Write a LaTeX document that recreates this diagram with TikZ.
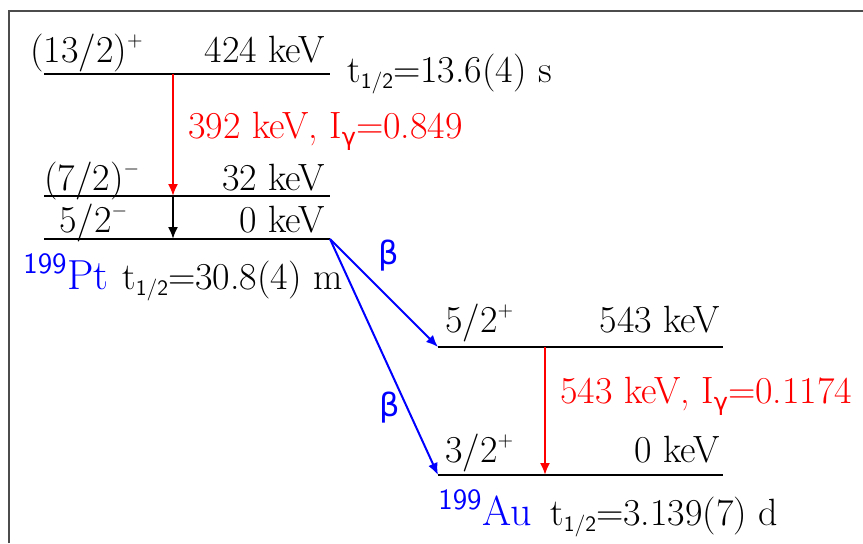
\documentclass[tikz,border=0pt]{standalone}
\usepackage{fontspec}
\newfontfamily\betafont{DejaVu Sans}
\usetikzlibrary{arrows.meta,positioning}
\newcommand\thalf{t\raisebox{-0.4ex}{\fontsize{11}{12}\selectfont\sffamily 1/2}}
\newcommand\igam{I\raisebox{-0.45ex}{\fontsize{12}{12}\selectfont\betafont γ}}
\newcommand\supr[1]{\raisebox{0.95ex}{\fontsize{10}{10}\selectfont #1}}

\begin{document}
\begin{tikzpicture}[x=0.5pt,y=-0.5pt,>={Latex[length=6pt,width=5pt]},
  level/.style={line width=1.4pt},
  gam/.style={->,red,line width=1pt},
  bet/.style={->,blue,line width=1pt},
  lab/.style={font=\fontsize{19}{22}\selectfont,inner sep=0pt},
  nuc/.style={font=\fontsize{21}{24}\selectfont,blue,inner sep=0pt}]
  \useasboundingbox (0,0) rectangle (863,543);
  % Rahmen
  \draw[black!70,line width=1pt] (9,543) -- (9,10.5) -- (863,10.5);
  % Niveaus Pt
  \coordinate (pt424l) at (44,74);  \coordinate (pt424r) at (330,74);
  \coordinate (pt32l) at (44,196);  \coordinate (pt32r) at (330,196);
  \coordinate (pt0l) at (44,239);   \coordinate (pt0r) at (330,239);
  \draw[level] (pt424l) -- (pt424r);
  \draw[level] (pt32l) -- (pt32r);
  \draw[level] (pt0l) -- (pt0r);
  % Niveaus Au
  \coordinate (au543l) at (438,347); \coordinate (au543r) at (723,347);
  \coordinate (au0l) at (438,475);   \coordinate (au0r) at (723,475);
  \draw[level] (au543l) -- (au543r);
  \draw[level] (au0l) -- (au0r);
  % Gamma-Uebergaenge
  \coordinate (g392) at (173,74);
  \coordinate (g32) at (173,196);
  \coordinate (g543) at (545,347);
  \draw[gam] (g392) -- (g392 |- pt32l);
  \draw[->,line width=1pt] (g32) -- (g32 |- pt0l);
  \draw[gam] (g543) -- (g543 |- au0l);
  % Beta-Zerfaelle
  \draw[bet] (pt0r) -- (au543l);
  \draw[bet] (pt0r) -- (au0l);
  \node[blue,font=\betafont\fontsize{16}{18}\selectfont] (b1) at (389,256) {β};
  \node[blue,font=\betafont\fontsize{16}{18}\selectfont] (b2) at (390,408) {β};
  % Beschriftungen Pt
  \node[lab,anchor=base west] (s424) at (30,62) {(13/2)\supr{+}};
  \node[lab,anchor=base east] (e424) at (325,62) {424 keV};
  \node[lab,anchor=base west] (t424) at (347,82) {\thalf=13.6(4) s};
  \node[lab,red,anchor=base west] (l392) at (188,138) {392 keV, \igam=0.849};
  \node[lab,anchor=base west] (s32) at (44,190) {(7/2)\supr{$-$}};
  \node[lab,anchor=base east] (e32) at (325,190) {32 keV};
  \node[lab,anchor=base west] (s0) at (59,232) {5/2\supr{$-$}};
  \node[lab,anchor=base east] (e0) at (325,232) {0 keV};
  \node[nuc,anchor=base west] (pt) at (23,289) {\textsuperscript{\textsf{199}}Pt};
  \node[lab,anchor=base west] (tpt) at (122,289) {\thalf=30.8(4) m};
  % Beschriftungen Au
  \node[lab,anchor=base west] (s543) at (445,332) {5/2\supr{+}};
  \node[lab,anchor=base east] (e543) at (720,332) {543 keV};
  \node[lab,red,anchor=base west] (l543) at (560,403) {543 keV, \igam=0.1174};
  \node[lab,anchor=base west] (sau0) at (445,462) {3/2\supr{+}};
  \node[lab,anchor=base east] (eau0) at (720,462) {0 keV};
  \node[nuc,anchor=base west] (au) at (438,525) {\textsuperscript{\textsf{199}}Au};
  \node[lab,anchor=base west] (tau) at (550,525) {\thalf=3.139(7) d};
\end{tikzpicture}
\end{document}
